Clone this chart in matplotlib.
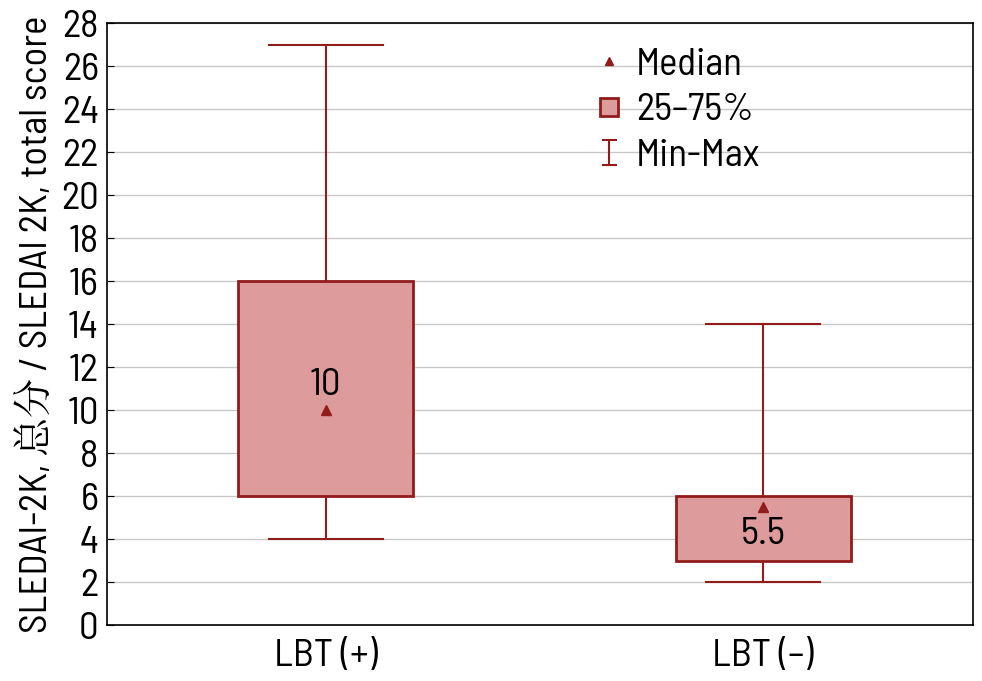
import matplotlib
matplotlib.use("Agg")
import matplotlib.pyplot as plt
from matplotlib.lines import Line2D
from matplotlib.path import Path
from matplotlib.patches import Rectangle

# ------------------------------------------------------------
# SLEDAI-2K by LBT group: median, quartiles, min-max
# ------------------------------------------------------------

groups = ["LBT (+)", "LBT (\u2013)"]
medians = [10, 5.5]
q1 = [6, 3]
q3 = [16, 6]
mins = [4, 2]
maxs = [27, 14]
median_labels = ["10", "5.5"]
yticks = list(range(0, 29, 2))

EDGE = "#921c1c"
FILL = "#dd9b9b"
FONT = ["Barlow Semi Condensed", "Roboto Condensed", "Liberation Sans Narrow",
        "Noto Serif CJK SC", "Noto Sans CJK SC", "DejaVu Sans"]
FS = 28

plt.rcParams["font.family"] = FONT

fig, ax = plt.subplots(figsize=(9.82, 6.81), dpi=100)
fig.subplots_adjust(left=0.109, right=0.991, top=0.966, bottom=0.082)

box_w = 0.4
cap_w = 0.26

for i in range(len(groups)):
    # whiskers
    ax.plot([i, i], [q3[i], maxs[i]], color=EDGE, lw=1.5, zorder=2)
    ax.plot([i, i], [mins[i], q1[i]], color=EDGE, lw=1.5, zorder=2)
    ax.plot([i - cap_w / 2, i + cap_w / 2], [maxs[i]] * 2, color=EDGE, lw=1.5, zorder=2)
    ax.plot([i - cap_w / 2, i + cap_w / 2], [mins[i]] * 2, color=EDGE, lw=1.5, zorder=2)
    # box
    ax.add_patch(Rectangle((i - box_w / 2, q1[i]), box_w, q3[i] - q1[i],
                           facecolor=FILL, edgecolor=EDGE, lw=2, zorder=3))
    # median marker
    ax.plot(i, medians[i], marker="^", color=EDGE, ms=7, ls="none", zorder=4)

ax.text(0, medians[0] + 0.35, median_labels[0], ha="center", va="bottom",
        fontsize=FS, zorder=5)
ax.text(1, medians[1] - 0.45, median_labels[1], ha="center", va="top",
        fontsize=FS, zorder=5)

ax.set_xlim(-0.5, 1.48)
ax.set_ylim(0, 28)
ax.set_xticks(range(len(groups)))
ax.set_xticklabels(groups)
ax.set_yticks(yticks)
ax.tick_params(axis="both", labelsize=FS, direction="in", length=5, color="black")
ax.tick_params(axis="x", length=0, pad=10)
ax.tick_params(axis="y", pad=6)
ax.yaxis.grid(True, color="#c8c8c8", lw=1)
ax.set_axisbelow(True)
for sp in ax.spines.values():
    sp.set_color("black")
    sp.set_linewidth(1.2)

ax.set_ylabel("SLEDAI-2K, \u603b\u5206 / SLEDAI 2K, total score", fontsize=FS, labelpad=4)

ibeam = Path([(-0.6, 1), (0.6, 1), (0, 1), (0, -1), (-0.6, -1), (0.6, -1)],
             [Path.MOVETO, Path.LINETO, Path.MOVETO, Path.LINETO, Path.MOVETO, Path.LINETO])
handles = [
    Line2D([], [], marker="^", color=EDGE, ls="none", ms=6),
    Line2D([], [], marker="s", markerfacecolor=FILL, markeredgecolor=EDGE,
           markeredgewidth=2, ls="none", ms=13),
    Line2D([], [], marker=ibeam, color=EDGE, ls="none", ms=18, markeredgewidth=1.5),
]
ax.legend(handles, ["Median", "25\u201375%", "Min-Max"], loc="upper left",
          bbox_to_anchor=(0.53, 1.005), frameon=False, fontsize=FS,
          handlelength=0.8, handletextpad=0.3, labelspacing=0.27, borderaxespad=0.3)

fig.savefig("out.png", dpi=100)
